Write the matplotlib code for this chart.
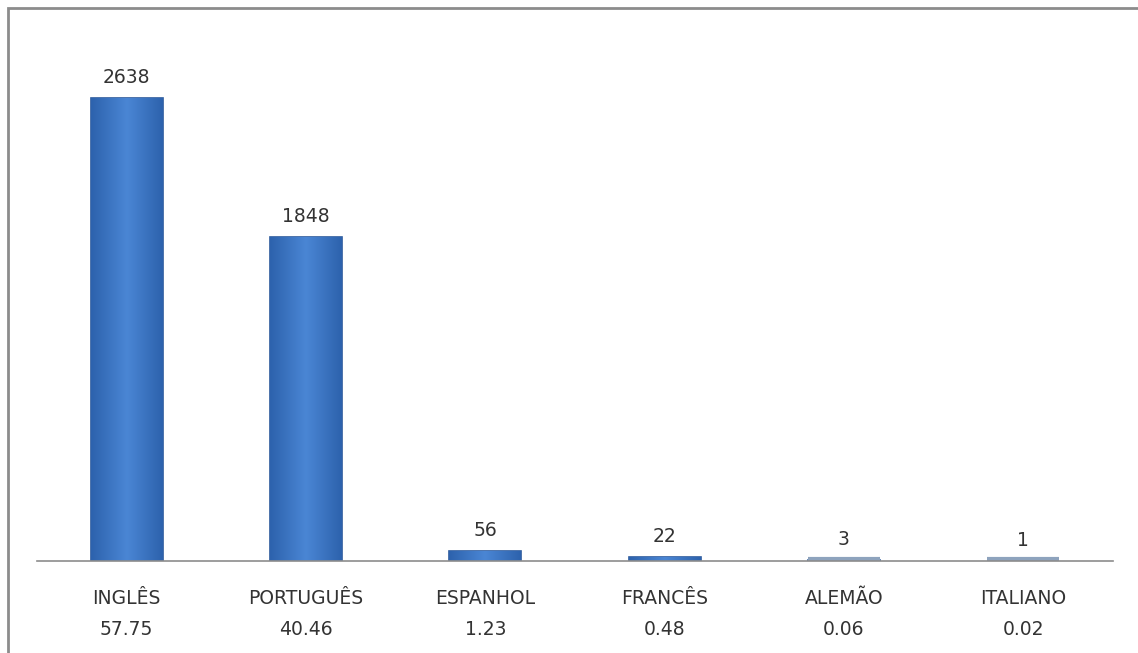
import matplotlib.pyplot as plt
import matplotlib.patches as mpatches
import matplotlib.transforms as mtransforms
import numpy as np

plt.rcParams['font.family'] = ['DejaVu Sans']

# data
idiomas = ['INGLÊS', 'PORTUGUÊS', 'ESPANHOL', 'FRANCÊS', 'ALEMÃO', 'ITALIANO']
contagem = [2638, 1848, 56, 22, 3, 1]
percentual = ['57.75', '40.46', '1.23', '0.48', '0.06', '0.02']

fig = plt.figure(figsize=(11.38, 6.53), dpi=100)
ax = fig.add_axes([37 / 1138, 1 - 561 / 653, 1076 / 1138, (561 - 34.5) / 653])

# outer frame, cut off at right and bottom like the screenshot
frame = mpatches.Rectangle((8 / 1138, -0.1), 1.2, 1 - 8 / 653 + 0.1,
                           transform=fig.transFigure, fill=False,
                           edgecolor='#8c8c8c', linewidth=2, zorder=0)
fig.patches.append(frame)

x = np.arange(len(idiomas))
largura = 0.4
bars = ax.bar(x, contagem, width=largura, color='#3b73c2',
              edgecolor='#2c5a9c', linewidth=1.2, zorder=2)

# horizontal gradient inside each bar (lighter in the middle)
grad = np.concatenate([np.linspace(0, 1, 50), np.linspace(1, 0, 50)])
grad = np.vstack([grad, grad])
cmap = plt.matplotlib.colors.LinearSegmentedColormap.from_list(
    'azul', ['#2d62ad', '#4a86d4'])
for b in bars:
    x0, w, h = b.get_x(), b.get_width(), b.get_height()
    im = ax.imshow(grad, cmap=cmap, aspect='auto',
                   extent=[x0, x0 + w, 0, h], zorder=3)
    im.set_clip_path(b)

# tiny bars show up as thin grey-blue slabs in the original
lift = mtransforms.offset_copy(ax.transData, fig=fig, x=0, y=2, units='dots')
for b in bars[4:]:
    ax.plot([b.get_x(), b.get_x() + b.get_width()], [0, 0],
            color='#8ea3bd', linewidth=3, solid_capstyle='butt',
            transform=lift, zorder=4)

for xi, v in zip(x, contagem):
    ax.annotate(str(v), (xi, v), xytext=(0, 8), textcoords='offset points',
                ha='center', va='bottom', fontsize=13.5, color='#333333')

ax.set_xlim(-0.5, len(idiomas) - 0.5)
ax.set_ylim(0, 3000)
ax.set_xticks(x)
ax.set_xticklabels([f'{n}\n{p}' for n, p in zip(idiomas, percentual)],
                   fontsize=13.5, color='#333333', linespacing=1.8)
ax.tick_params(axis='x', length=0, pad=20)
ax.set_yticks([])
for s in ['left', 'right', 'top']:
    ax.spines[s].set_visible(False)
ax.spines['bottom'].set_color('#8c8c8c')
ax.spines['bottom'].set_linewidth(1.2)
ax.spines['bottom'].set_zorder(5)

plt.savefig('out.png', dpi=100)
